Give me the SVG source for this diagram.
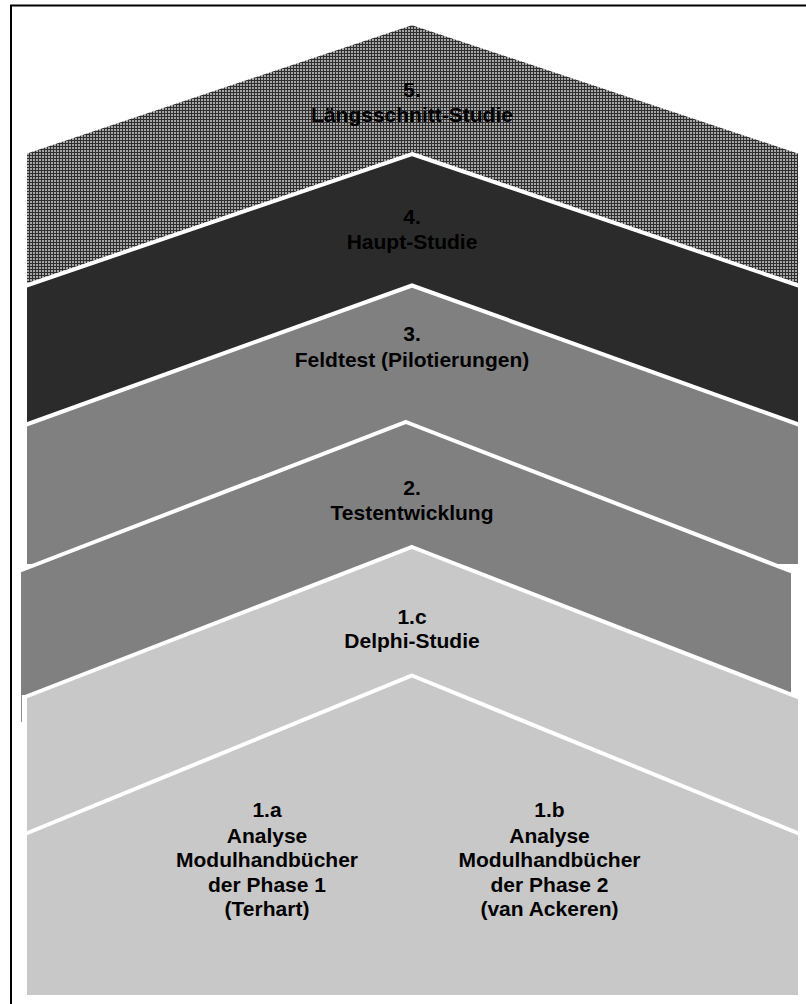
<svg xmlns="http://www.w3.org/2000/svg" width="806" height="1004" viewBox="0 0 806 1004">
<style>
.shape { stroke:#ffffff; stroke-width:4; stroke-linejoin:miter; }
.lbl { font-family:"Liberation Sans", Arial, sans-serif; font-weight:bold; font-size:21px; fill:#000000; text-anchor:middle; }
</style>
<defs>
<pattern id="dots" x="0" y="0" width="3" height="3" patternUnits="userSpaceOnUse">
<rect width="3" height="3" fill="#2e2e2e"/>
<rect width="2" height="2" fill="#a6a6a6"/>
</pattern>
</defs>
<rect width="806" height="1004" fill="#ffffff"/>
<polyline points="11,1004 11,5.5 806,5.5" fill="none" stroke="#000000" stroke-width="2"/>
<g id="node-5">
<path class="shape" fill="url(#dots)" d="M412,23 L800,152 L800,300 L25,300 L25,152 Z"/>
<text class="lbl" x="412" y="97">5.</text>
<text class="lbl" x="412" y="122">Längsschnitt-Studie</text>
</g>
<g id="node-4">
<path class="shape" fill="#2b2b2b" d="M412,154 L800,286 L800,432 L25,432 L25,286 Z"/>
<text class="lbl" x="412" y="224">4.</text>
<text class="lbl" x="412" y="249">Haupt-Studie</text>
</g>
<g id="node-3">
<path class="shape" fill="#808080" d="M412,285.5 L800,425 L800,566 L25,566 L25,425 Z"/>
<text class="lbl" x="412" y="341">3.</text>
<text class="lbl" x="412" y="366.5">Feldtest (Pilotierungen)</text>
</g>
<g id="node-2">
<path class="shape" fill="#808080" d="M406,422 L793,572 L793,694 L19,697 L19,571 Z"/>
<line x1="21.5" y1="695" x2="21.5" y2="722" stroke="#8c8c8c" stroke-width="1"/>
<text class="lbl" x="412" y="495">2.</text>
<text class="lbl" x="412" y="520">Testentwicklung</text>
</g>
<g id="node-1c">
<path class="shape" fill="#c8c8c8" d="M412,547 L800,698 L800,845 L25,845 L25,697 Z"/>
<text class="lbl" x="412" y="623.5">1.c</text>
<text class="lbl" x="412" y="648">Delphi-Studie</text>
</g>
<g id="node-1ab">
<path class="shape" fill="#c8c8c8" d="M412,675.5 L800,834 L800,997 L25,997 L25,834 Z"/>
<g id="label-1a">
<text class="lbl" x="267" y="817">1.a</text>
<text class="lbl" x="267" y="842.5">Analyse</text>
<text class="lbl" x="267" y="867">Modulhandbücher</text>
<text class="lbl" x="267" y="891.5">der Phase 1</text>
<text class="lbl" x="267" y="916">(Terhart)</text>
</g>
<g id="label-1b">
<text class="lbl" x="549.5" y="817">1.b</text>
<text class="lbl" x="549.5" y="842.5">Analyse</text>
<text class="lbl" x="549.5" y="867">Modulhandbücher</text>
<text class="lbl" x="549.5" y="891.5">der Phase 2</text>
<text class="lbl" x="549.5" y="916">(van Ackeren)</text>
</g>
</g>
<g id="connectors"></g>
</svg>
